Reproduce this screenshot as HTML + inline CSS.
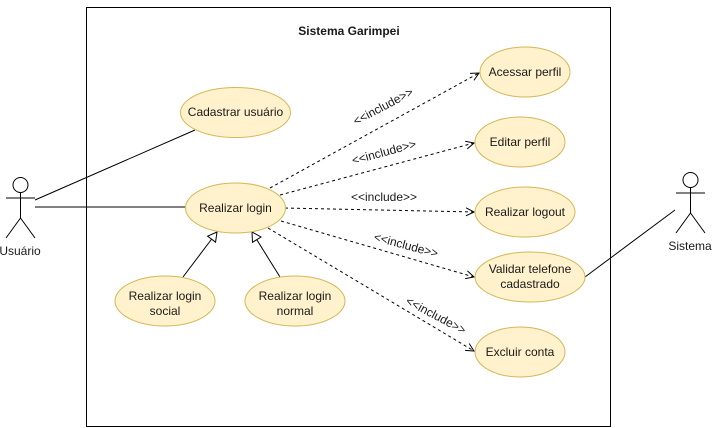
<!DOCTYPE html>
<html><head><style>body{margin:0;background:#fff}svg{display:block}text{font-family:"Liberation Sans",Arial,sans-serif;font-size:12px;fill:#1a1a1a}</style></head>
<body>
<svg width="712" height="428" viewBox="0 0 712 428" xmlns="http://www.w3.org/2000/svg">
<defs>
<marker id="op" markerWidth="10" markerHeight="10" refX="9" refY="5" orient="auto" markerUnits="userSpaceOnUse"><path d="M1,1 L9,5 L1,9" fill="none" stroke="#000" stroke-width="1"/></marker>
<marker id="tri" markerWidth="12" markerHeight="12" refX="10" refY="6" orient="auto" markerUnits="userSpaceOnUse"><path d="M1,1 L10,6 L1,11 Z" fill="#fff" stroke="#000" stroke-width="1"/></marker>
</defs>
<rect x="86.5" y="7.5" width="524" height="419" fill="#fff" stroke="#000"/>
<text x="349" y="35" text-anchor="middle" font-weight="bold" style="font-size:12px">Sistema Garimpei</text>
<!-- actor lines -->
<line x1="35" y1="200" x2="195" y2="130" stroke="#000"/>
<line x1="35" y1="207" x2="185" y2="207" stroke="#000"/>
<line x1="675" y1="210" x2="585" y2="277" stroke="#000"/>
<!-- generalization -->
<line x1="183" y1="277" x2="217" y2="232" stroke="#000" marker-end="url(#tri)"/>
<line x1="280" y1="277" x2="252" y2="232" stroke="#000" marker-end="url(#tri)"/>
<!-- includes -->
<g stroke="#000" stroke-dasharray="3,3" fill="none">
<line x1="270" y1="188" x2="479" y2="73" marker-end="url(#op)"/>
<line x1="280" y1="195" x2="474" y2="143" marker-end="url(#op)"/>
<line x1="285" y1="208" x2="474" y2="212" marker-end="url(#op)"/>
<line x1="281" y1="221" x2="474" y2="277" marker-end="url(#op)"/>
<line x1="268" y1="228" x2="474" y2="351" marker-end="url(#op)"/>
</g>
<g style="font-size:11px">
<text transform="translate(385,110) rotate(-28)" text-anchor="middle">&lt;&lt;include&gt;&gt;</text>
<text transform="translate(385,156) rotate(-15)" text-anchor="middle">&lt;&lt;include&gt;&gt;</text>
<text x="384" y="201" text-anchor="middle">&lt;&lt;include&gt;&gt;</text>
<text transform="translate(405,249) rotate(15)" text-anchor="middle">&lt;&lt;include&gt;&gt;</text>
<text transform="translate(434,319) rotate(28)" text-anchor="middle">&lt;&lt;include&gt;&gt;</text>
</g>
<!-- ellipses -->
<g fill="#fff2cc" stroke="#d6b656">
<ellipse cx="235.5" cy="112.5" rx="55" ry="25"/>
<ellipse cx="235.5" cy="208" rx="50" ry="25"/>
<ellipse cx="165" cy="301" rx="50" ry="25"/>
<ellipse cx="295" cy="301" rx="50" ry="25"/>
<ellipse cx="525" cy="72" rx="45" ry="25"/>
<ellipse cx="520" cy="142" rx="45" ry="25"/>
<ellipse cx="525" cy="212" rx="50" ry="25"/>
<ellipse cx="530" cy="277" rx="55" ry="25"/>
<ellipse cx="520" cy="352" rx="45" ry="25"/>
</g>
<g text-anchor="middle">
<text x="235.5" y="116">Cadastrar usuário</text>
<text x="235.5" y="212">Realizar login</text>
<text x="165" y="300">Realizar login</text><text x="165" y="315">social</text>
<text x="295" y="300">Realizar login</text><text x="295" y="315">normal</text>
<text x="525" y="76">Acessar perfil</text>
<text x="520" y="146">Editar perfil</text>
<text x="525" y="216">Realizar logout</text>
<text x="530" y="273">Validar telefone</text><text x="530" y="288">cadastrado</text>
<text x="520" y="356">Excluir conta</text>
</g>
<!-- actors -->
<g stroke="#000" fill="#fff">
<circle cx="20.5" cy="185" r="7.5"/>
<line x1="20.5" y1="192.5" x2="20.5" y2="218"/>
<line x1="6" y1="198" x2="35" y2="198"/>
<line x1="20.5" y1="218" x2="6" y2="238"/>
<line x1="20.5" y1="218" x2="35" y2="238"/>
<circle cx="690.5" cy="180" r="7.5"/>
<line x1="690.5" y1="187.5" x2="690.5" y2="213"/>
<line x1="676" y1="193" x2="705" y2="193"/>
<line x1="690.5" y1="213" x2="676" y2="233"/>
<line x1="690.5" y1="213" x2="705" y2="233"/>
</g>
<text x="20" y="255" text-anchor="middle">Usuário</text>
<text x="690" y="250" text-anchor="middle">Sistema</text>
</svg>
</body></html>
